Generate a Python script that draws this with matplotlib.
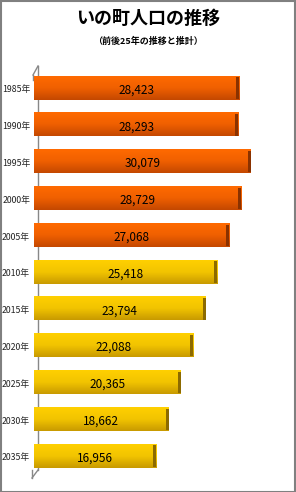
import numpy as np
import matplotlib.pyplot as plt
from matplotlib.patches import Rectangle
from matplotlib.lines import Line2D
from matplotlib.colors import LinearSegmentedColormap

plt.rcParams['font.family'] = ['Noto Sans CJK JP', 'DejaVu Sans']

# data
years = ["1985年", "1990年", "1995年", "2000年", "2005年", "2010年",
         "2015年", "2020年", "2025年", "2030年", "2035年"]
population = [28423, 28293, 30079, 28729, 27068, 25418,
              23794, 22088, 20365, 18662, 16956]
actual = [True, True, True, True, True, False,
          False, False, False, False, False]

title = "いの町人口の推移"
subtitle = "（前後25年の推移と推計）"

orange = LinearSegmentedColormap.from_list("o", ["#FF6A00", "#F06000", "#C44800"])
yellow = LinearSegmentedColormap.from_list("y", ["#FFD000", "#F2C400", "#C89A00"])
cap_orange = "#8A3200"
cap_yellow = "#8C6A00"

W, H = 296, 492
fig = plt.figure(figsize=(W / 100, H / 100), dpi=100)
fig.patch.set_facecolor("white")

# axes: x=34..280 px, y=66..470 px
ax = fig.add_axes([34 / W, 1 - 470 / H, 246 / W, 404 / H])
xmax = 30079 * 246 / 217
ax.axis("off")

grad = np.linspace(0, 1, 64).reshape(-1, 1)
h = 0.63
cap_w = xmax * 3 / 246
for i, (v, a) in enumerate(zip(population, actual)):
    cmap = orange if a else yellow
    ax.imshow(grad, cmap=cmap, aspect="auto", extent=(0, v, i + h / 2, i - h / 2),
              interpolation="bilinear", zorder=2)
    ax.barh(i, cap_w, left=v - cap_w, height=h * 0.92,
            color=cap_orange if a else cap_yellow, zorder=3)
    ax.text(v / 2, i + 0.05, f"{v:,}", ha="center", va="center",
            fontsize=8.5, color="black", zorder=4)
    ax.text(-xmax * 4 / 246, i + 0.05, years[i], ha="right", va="center",
            fontsize=6.3, color="#222222")
ax.set_ylim(10.38, -0.6)
ax.set_xlim(0, xmax)

# pseudo-3D wall line, behind the bars
def px(x, y):
    return (x / W, 1 - y / H)

for (x0, y0), (x1, y1) in [((38, 66), (38, 470)), ((38, 66), (33, 75)),
                           ((33, 75), (33, 80)), ((38, 470), (32, 478)),
                           ((32, 470), (32, 478))]:
    a0, b0 = px(x0, y0)
    a1, b1 = px(x1, y1)
    fig.add_artist(Line2D([a0, a1], [b0, b1], color="#888888", lw=1.0, zorder=-1))

fig.text(0.5, 1 - 18 / H, title, ha="center", va="center",
         fontsize=13, fontweight="bold", color="black")
fig.text(0.5, 1 - 41 / H, subtitle, ha="center", va="center",
         fontsize=6.5, fontweight="bold", color="black")

fig.add_artist(Rectangle((0.5 / W, 0.5 / H), 1 - 1.5 / W, 1 - 1.5 / H,
                         transform=fig.transFigure, fill=False,
                         edgecolor="#808080", lw=1.5))

fig.savefig("out.png", dpi=100)
